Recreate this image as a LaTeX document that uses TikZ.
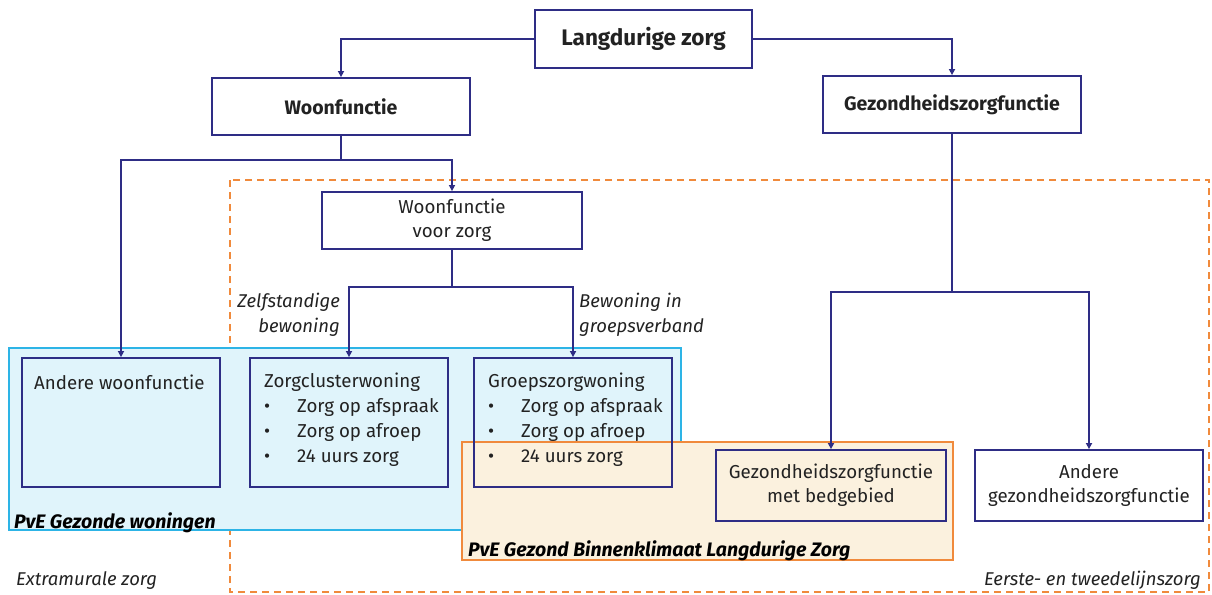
\documentclass[tikz,border=0pt]{standalone}
\usepackage{fontspec}
\setmainfont{Fira Sans}
\usetikzlibrary{arrows.meta,calc}
\definecolor{navy}{HTML}{2E2D85}
\definecolor{orng}{HTML}{F08A3C}
\definecolor{cyanb}{HTML}{2DB4E6}
\definecolor{bluef}{HTML}{E0F4FB}
\definecolor{orngf}{HTML}{FBF1DE}
\definecolor{txt}{HTML}{222222}
\begin{document}
\begin{tikzpicture}[x=1pt,y=-1pt,
  box/.style={draw=navy,line width=1.8pt,inner sep=0pt,font=\fontsize{18.7}{24}\selectfont,text=txt,align=center},
  conn/.style={draw=navy,line width=1.6pt},
  arr/.style={conn,-{Triangle[length=6pt,width=6pt]}},
  lab/.style={inner sep=0pt,font=\fontsize{18.5}{25}\selectfont\itshape,text=txt},
  btxt/.style={inner sep=0pt,font=\fontsize{18.7}{25}\selectfont,text=txt,align=left},
  rlab/.style={anchor=base west,inner sep=0pt,font=\fontsize{19.5}{22}\selectfont\bfseries\itshape,text=black},
  region/.style={line width=1.8pt}]
\useasboundingbox (0,0) rectangle (1212,594);
% regions
\draw[orng,dashed,line width=1.5pt,dash pattern=on 7pt off 5pt] (230,180) rectangle (1209,592);
\path[region,draw=cyanb,fill=bluef] (9,348) rectangle (681,530);
\path[region,draw=orng,fill=orngf] (462,442) rectangle (953,560);
% top nodes
\node[box,minimum width=217pt,minimum height=58pt,font=\fontsize{22.5}{26}\selectfont\bfseries] (lz) at (643.5,39) {Langdurige zorg};
\node[box,minimum width=258pt,minimum height=57pt,font=\fontsize{19.5}{22}\selectfont\bfseries] (wf) at (341,106.5) {Woonfunctie};
\node[box,minimum width=258pt,minimum height=57pt,font=\fontsize{19.5}{22}\selectfont\bfseries] (gz) at (952,104.5) {Gezondheidszorgfunctie};
\node[box,fill=white,minimum width=260pt,minimum height=57pt] (wvz) at (452,220.5) {Woonfunctie\\voor zorg};
% lower boxes
\node[box,fill=bluef,minimum width=198pt,minimum height=129pt] (aw) at (121,422.5) {};
\node[box,minimum width=198pt,minimum height=129pt] (zc) at (349,422.5) {};
\node[box,minimum width=198pt,minimum height=129pt] (gw) at (573,422.5) {};
\node[box,minimum width=230pt,minimum height=71pt] (gmb) at (831,485.5) {Gezondheidszorgfunctie\\met bedgebied};
\node[box,fill=white,minimum width=228pt,minimum height=71pt] (agz) at (1089,485.5) {Andere\\gezondheidszorgfunctie};
% texts in boxes
\node[btxt,anchor=base west] (awt) at (34,389) {Andere woonfunctie};
\node[btxt,anchor=north west] (zct) at (264,373)
  {Zorgclusterwoning\\\makebox[33pt][l]{•}Zorg op afspraak\\\makebox[33pt][l]{•}Zorg op afroep\\\makebox[33pt][l]{•}24 uurs zorg};
\node[btxt,anchor=north west] (gwt) at (488,373)
  {Groepszorgwoning\\\makebox[33pt][l]{•}Zorg op afspraak\\\makebox[33pt][l]{•}Zorg op afroep\\\makebox[33pt][l]{•}24 uurs zorg};
% region labels
\node[rlab] (pgw) at (14,528) {PvE Gezonde woningen};
\node[rlab] (pgb) at (468,556) {PvE Gezond Binnenklimaat Langdurige Zorg};
\node[lab,anchor=base west] (ez) at (16,585) {Extramurale zorg};
\node[lab,anchor=base east] (etz) at (1201,585) {Eerste- en tweedelijnszorg};
\node[lab,anchor=north east,align=right] (zb) at (340,293) {Zelfstandige\\bewoning};
\node[lab,anchor=north west,align=left] (bg) at (579,293) {Bewoning in\\groepsverband};
% connectors
\draw[arr] (lz.west) -| (wf.north);
\draw[arr] (lz.east) -| (gz.north);
\coordinate (j1) at (341,160);
\draw[conn] (wf.south) -- (j1);
\draw[arr] (j1) -| (aw.north);
\draw[arr] (j1) -| (wvz.north);
\coordinate (j2) at (452,287);
\draw[conn] (wvz.south) -- (j2);
\draw[arr] (j2) -| (zc.north);
\draw[arr] (j2) -| (gw.north);
\coordinate (j3) at (952,292);
\draw[conn] (gz.south) -- (j3);
\draw[arr] (j3) -| (gmb.north);
\draw[arr] (j3) -| (agz.north);
\end{tikzpicture}
\end{document}
